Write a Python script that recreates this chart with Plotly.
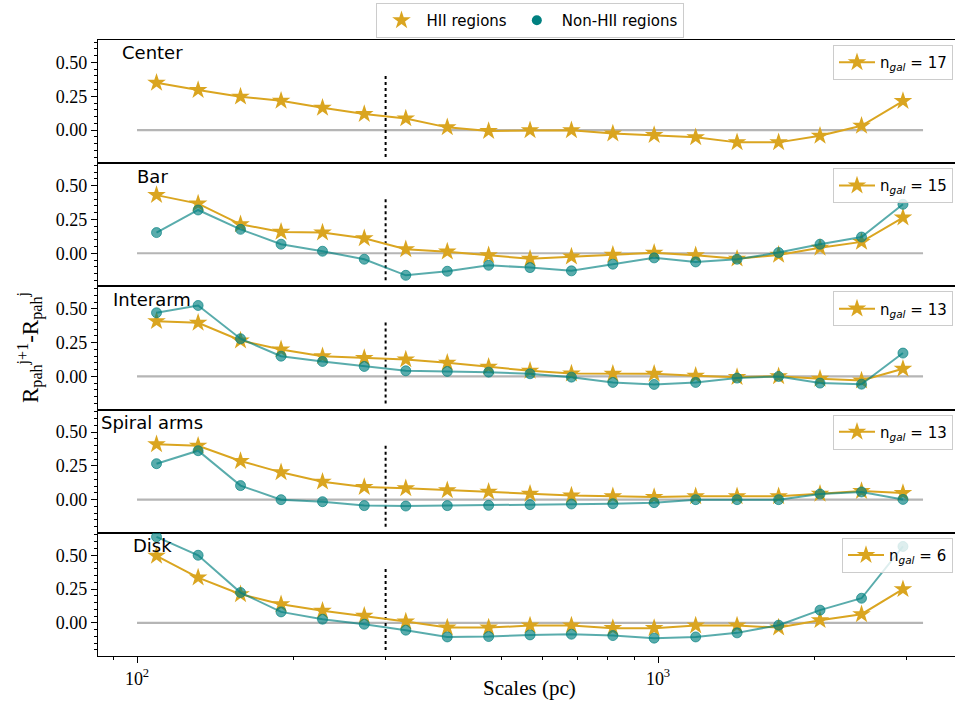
import math
import plotly.graph_objects as go
from plotly.subplots import make_subplots

# Spatial scales probed (pc)
scales_pc = [109, 131, 158, 189, 227, 273, 328, 394, 473, 568,
             682, 819, 983, 1181, 1418, 1704, 2046, 2458, 2952]

# R_pah^{j+1} - R_pah^j per environment
center_hii = [0.350, 0.296, 0.247, 0.217, 0.165, 0.118, 0.086, 0.020, -0.007, -0.002,
              -0.002, -0.025, -0.037, -0.054, -0.091, -0.091, -0.042, 0.032, 0.214]
center_non = None

bar_hii = [0.430, 0.367, 0.214, 0.158, 0.153, 0.111, 0.030, 0.012, -0.015, -0.040,
           -0.025, -0.012, 0.003, -0.015, -0.040, -0.012, 0.040, 0.084, 0.264]
bar_non = [0.153, 0.320, 0.177, 0.067, 0.015, -0.044, -0.163, -0.133, -0.089, -0.106,
           -0.130, -0.081, -0.034, -0.064, -0.044, 0.005, 0.067, 0.120, 0.362]

interarm_hii = [0.409, 0.397, 0.266, 0.200, 0.150, 0.136, 0.126, 0.101, 0.071, 0.042,
                0.022, 0.020, 0.020, 0.005, -0.005, 0.002, -0.017, -0.030, 0.057]
interarm_non = [0.471, 0.525, 0.279, 0.150, 0.111, 0.074, 0.042, 0.037, 0.032, 0.020,
                -0.005, -0.044, -0.059, -0.044, -0.012, 0.000, -0.049, -0.057, 0.173]

spiral_hii = [0.409, 0.399, 0.286, 0.202, 0.133, 0.094, 0.084, 0.069, 0.059, 0.044,
              0.030, 0.025, 0.020, 0.025, 0.025, 0.025, 0.044, 0.064, 0.049]
spiral_non = [0.266, 0.362, 0.104, 0.000, -0.015, -0.044, -0.047, -0.044, -0.042, -0.037,
              -0.032, -0.030, -0.022, 0.000, 0.000, 0.000, 0.042, 0.057, 0.002]

disk_hii = [0.496, 0.335, 0.212, 0.138, 0.089, 0.052, 0.010, -0.035, -0.035, -0.020,
            -0.020, -0.039, -0.039, -0.020, -0.020, -0.035, 0.020, 0.064, 0.249]
disk_non = [0.636, 0.500, 0.224, 0.081, 0.027, -0.010, -0.054, -0.104, -0.101, -0.089,
            -0.084, -0.094, -0.113, -0.104, -0.074, -0.017, 0.094, 0.182, 0.565]

environments = ["Center", "Bar", "Interarm", "Spiral arms", "Disk"]
n_gal = [17, 15, 13, 13, 6]
hii_series = [center_hii, bar_hii, interarm_hii, spiral_hii, disk_hii]
non_series = [center_non, bar_non, interarm_non, spiral_non, disk_non]

# reference level and resolution marker
zero_level = 0.0
zero_span_pc = [100, 3226]
resolution_pc = 300
resolution_span = [-0.2, 0.4]

x_ticks = [100, 1000]
x_ticktext = ["10<sup>2</sup>", "10<sup>3</sup>"]
x_minor = [90, 200, 300, 400, 500, 600, 700, 800, 900, 2000, 3000]
y_ticks = [0.0, 0.25, 0.5]
y_ticktext = ["0.00", "0.25", "0.50"]

GOLD = "#DAA520"
TEAL = "rgba(0,128,128,0.65)"
SERIF = "Liberation Serif"
SANS = "DejaVu Sans"

W, H = 955, 706
M_L, M_R, M_T, M_B = 98, 0, 40, 50
plot_w = W - M_L - M_R
plot_h = H - M_T - M_B
panel_h = plot_h / 5

fig = make_subplots(rows=5, cols=1, shared_xaxes=True, vertical_spacing=0)

for i, (env, hii, non, ng) in enumerate(zip(environments, hii_series, non_series, n_gal)):
    row = i + 1
    fig.add_trace(go.Scatter(
        x=zero_span_pc, y=[zero_level, zero_level], mode="lines",
        line=dict(color="#b5b5b5", width=2.2), showlegend=False, hoverinfo="skip"),
        row=row, col=1)
    fig.add_trace(go.Scatter(
        x=[resolution_pc, resolution_pc], y=resolution_span, mode="lines",
        line=dict(color="black", width=2, dash="dot"), showlegend=False, hoverinfo="skip"),
        row=row, col=1)
    fig.add_trace(go.Scatter(
        x=scales_pc, y=hii, mode="lines+markers",
        line=dict(color=GOLD, width=2),
        marker=dict(symbol="star", size=14, color=GOLD, line=dict(width=0)),
        name=f"n<sub><i>gal</i></sub> = {ng}",
        legend=f"legend{row + 1}", showlegend=True),
        row=row, col=1)
    if non is not None:
        fig.add_trace(go.Scatter(
            x=scales_pc, y=non, mode="lines+markers",
            line=dict(color=TEAL, width=2),
            marker=dict(symbol="circle", size=10, color=TEAL, line=dict(color=TEAL, width=1)),
            showlegend=False),
            row=row, col=1)

# shared legend entries
fig.add_trace(go.Scatter(x=[None], y=[None], mode="markers", name="HII regions",
                         marker=dict(symbol="star", size=14, color=GOLD), legend="legend"))
fig.add_trace(go.Scatter(x=[None], y=[None], mode="markers", name="Non-HII regions",
                         marker=dict(symbol="circle", size=10, color="#008080"), legend="legend"))

x_range = [1.9251, 3.570]
y_range = [-0.245, 0.666]

for row in range(1, 6):
    bottom = row == 5
    fig.update_xaxes(
        type="log", range=x_range, showgrid=False, zeroline=False,
        showline=True, mirror=True, linecolor="black", linewidth=1.3,
        tickmode="array", tickvals=x_ticks, ticktext=x_ticktext,
        ticks="outside" if bottom else "", ticklen=6, tickcolor="black",
        showticklabels=bottom,
        tickfont=dict(family=SERIF, size=18, color="black"),
        minor=dict(tickmode="array", tickvals=x_minor,
                   ticks="outside" if bottom else "", ticklen=3, tickcolor="black"),
        row=row, col=1)
    fig.update_yaxes(
        range=y_range, showgrid=False, zeroline=False,
        showline=True, mirror=False, linecolor="black", linewidth=1.3,
        tickmode="array", tickvals=y_ticks, ticktext=y_ticktext,
        ticks="outside", ticklen=6, tickcolor="black",
        tickfont=dict(family=SERIF, size=18, color="black"),
        minor=dict(dtick=0.05, tick0=0, ticks="outside", ticklen=3, tickcolor="black"),
        row=row, col=1)

# panel labels and per-panel legends
legend_boxes = {}
for i, (env, ng) in enumerate(zip(environments, n_gal)):
    row = i + 1
    axis_suffix = "" if row == 1 else str(row)
    fig.add_annotation(
        x=math.log10(107), y=0.57, xref=f"x{axis_suffix}", yref=f"y{axis_suffix}",
        text=env, showarrow=False, xanchor="center", yanchor="middle",
        font=dict(family=SANS, size=18, color="black"))
    top_px = M_T + i * panel_h + 5
    legend_boxes[f"legend{row + 1}"] = dict(
        x=1 - 2 / plot_w, xanchor="right", xref="paper",
        y=(plot_h - (top_px - M_T)) / plot_h, yanchor="top", yref="paper",
        bgcolor="rgba(255,255,255,0.8)", bordercolor="#cccccc", borderwidth=1,
        font=dict(family=SANS, size=15, color="black"),
        itemwidth=36, tracegroupgap=0)

fig.add_annotation(
    x=-68 / plot_w, y=0.5, xref="paper", yref="paper",
    text="R<sub>pah</sub><sup>j+1</sup>-R<sub>pah</sub><sup>j</sup>",
    textangle=-90, showarrow=False, xanchor="center", yanchor="middle",
    font=dict(family=SERIF, size=23, color="black"))
fig.add_annotation(
    x=(529.5 - M_L) / plot_w, y=-32 / plot_h, xref="paper", yref="paper",
    text="Scales (pc)", showarrow=False, xanchor="center", yanchor="middle",
    font=dict(family=SERIF, size=21, color="black"))

fig.update_layout(
    width=W, height=H,
    margin=dict(l=M_L, r=M_R, t=M_T, b=M_B),
    plot_bgcolor="white", paper_bgcolor="white",
    legend=dict(
        orientation="h", x=(529.5 - M_L) / plot_w, xanchor="center",
        y=(plot_h + M_T - 3) / plot_h, yanchor="top",
        bgcolor="white", bordercolor="#cccccc", borderwidth=1,
        font=dict(family=SANS, size=15, color="black"),
        itemwidth=40),
    **legend_boxes,
)

fig.write_html("out.html")
